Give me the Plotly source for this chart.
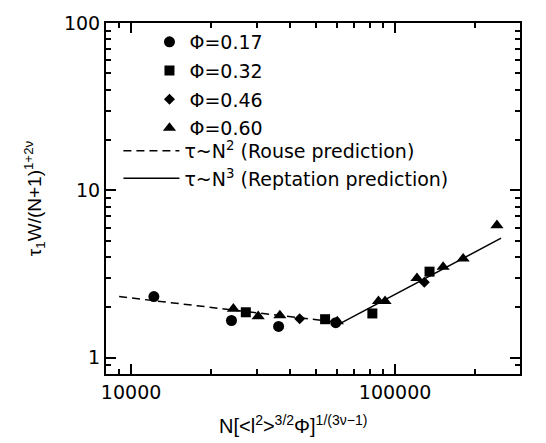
import plotly.graph_objects as go

# ---- data ----
x_phi017 = [12200, 24000, 36200, 59600]
y_phi017 = [2.32, 1.67, 1.54, 1.62]
x_phi032 = [27200, 54300, 82000, 135000]
y_phi032 = [1.87, 1.70, 1.84, 3.27]
x_phi046 = [43500, 129000]
y_phi046 = [1.71, 2.83]
x_phi060 = [24400, 30300, 36600, 60400, 86500, 91600, 121000, 152000, 181000, 243000]
y_phi060 = [1.96, 1.77, 1.79, 1.65, 2.18, 2.18, 2.99, 3.49, 3.91, 6.19]

x_rouse = [9010, 62800]
y_rouse = [2.32, 1.62]
x_rept = [62800, 252000]
y_rept = [1.62, 5.18]

x_tickvals = [10000, 100000]
x_ticktext = ["10000", "100000"]
y_tickvals = [1, 10, 100]
y_ticktext = ["1", "10", "100"]

FONT = "Liberation Sans, Arial, Helvetica, sans-serif"
WIDE = "DejaVu Sans, Verdana, sans-serif"

fig = go.Figure()
fig.add_trace(go.Scatter(x=x_phi017, y=y_phi017, mode="markers", name="Φ=0.17",
                         legendgroup="a", legend="legend",
                         marker=dict(symbol="circle", size=11, color="black")))
fig.add_trace(go.Scatter(x=x_phi032, y=y_phi032, mode="markers", name="Φ=0.32",
                         legendgroup="b", legend="legend",
                         marker=dict(symbol="square", size=10, color="black")))
fig.add_trace(go.Scatter(x=x_phi046, y=y_phi046, mode="markers", name="Φ=0.46",
                         legendgroup="c", legend="legend",
                         marker=dict(symbol="diamond", size=8.5, color="black")))
fig.add_trace(go.Scatter(x=x_phi060, y=y_phi060, mode="markers", name="Φ=0.60",
                         legendgroup="d", legend="legend",
                         marker=dict(symbol="triangle-up", size=11.5, color="black")))
fig.add_trace(go.Scatter(x=x_rouse, y=y_rouse, mode="lines",
                         name="τ~N<sup>2</sup> (Rouse prediction)",
                         legendgroup="e", legend="legend2",
                         line=dict(color="black", width=1.5, dash="8px,5px")))
fig.add_trace(go.Scatter(x=x_rept, y=y_rept, mode="lines",
                         name="τ~N<sup>3</sup> (Reptation prediction)",
                         legendgroup="f", legend="legend2",
                         line=dict(color="black", width=1.5)))

x_minor = [m * 10 ** e for e in range(3, 6) for m in range(2, 10)]
y_minor = [m * 10 ** e for e in range(-1, 2) for m in range(2, 10)]

axis_common = dict(
    type="log", showgrid=False, zeroline=False,
    showline=True, linecolor="black", linewidth=2, mirror="allticks",
    ticks="inside", ticklen=10, tickwidth=2, tickcolor="black",
    tickfont=dict(family=WIDE, size=19, color="black"),
)

fig.update_xaxes(
    **axis_common,
    range=[3.905, 5.473],
    tickmode="array", tickvals=x_tickvals, ticktext=x_ticktext,
    minor=dict(tickmode="array", tickvals=x_minor, ticks="inside", ticklen=5,
               tickwidth=1.5, tickcolor="black", showgrid=False),
)
fig.update_yaxes(
    **axis_common,
    range=[-0.0969, 2],
    tickmode="array", tickvals=y_tickvals, ticktext=y_ticktext,
    minor=dict(tickmode="array", tickvals=y_minor, ticks="inside", ticklen=5,
               tickwidth=1.5, tickcolor="black", showgrid=False),
    title=dict(text="τ<sub>1</sub>W/(N+1)<sup>1+2ν</sup>",
               font=dict(family=FONT, size=19, color="black"), standoff=17),
)

fig.add_annotation(
    text="N[&lt;l<sup>2</sup>&gt;<sup>3/2</sup>Φ]<sup>1/(3ν−1)</sup>",
    xref="paper", yref="paper", x=0.452, y=-0.145,
    xanchor="center", yanchor="middle", showarrow=False,
    font=dict(family=FONT, size=20, color="black"),
)

legend_font = dict(family=WIDE, size=19, color="black")
fig.update_layout(
    width=546, height=443,
    margin=dict(l=106, r=26, t=14, b=69),
    paper_bgcolor="white", plot_bgcolor="white",
    font=dict(family=FONT, size=20, color="black"),
    showlegend=True,
    legend=dict(x=0.105, y=1.0, xanchor="left", yanchor="top",
                bgcolor="rgba(0,0,0,0)", borderwidth=0, font=legend_font,
                traceorder="grouped", tracegroupgap=1, itemwidth=30),
    legend2=dict(x=0.03, y=0.69, xanchor="left", yanchor="top",
                 bgcolor="rgba(0,0,0,0)", borderwidth=0, font=legend_font,
                 traceorder="grouped", tracegroupgap=0, itemwidth=56),
)

fig.write_html("out.html", config={"displayModeBar": False},
               post_script="document.body.style.margin='0';")
